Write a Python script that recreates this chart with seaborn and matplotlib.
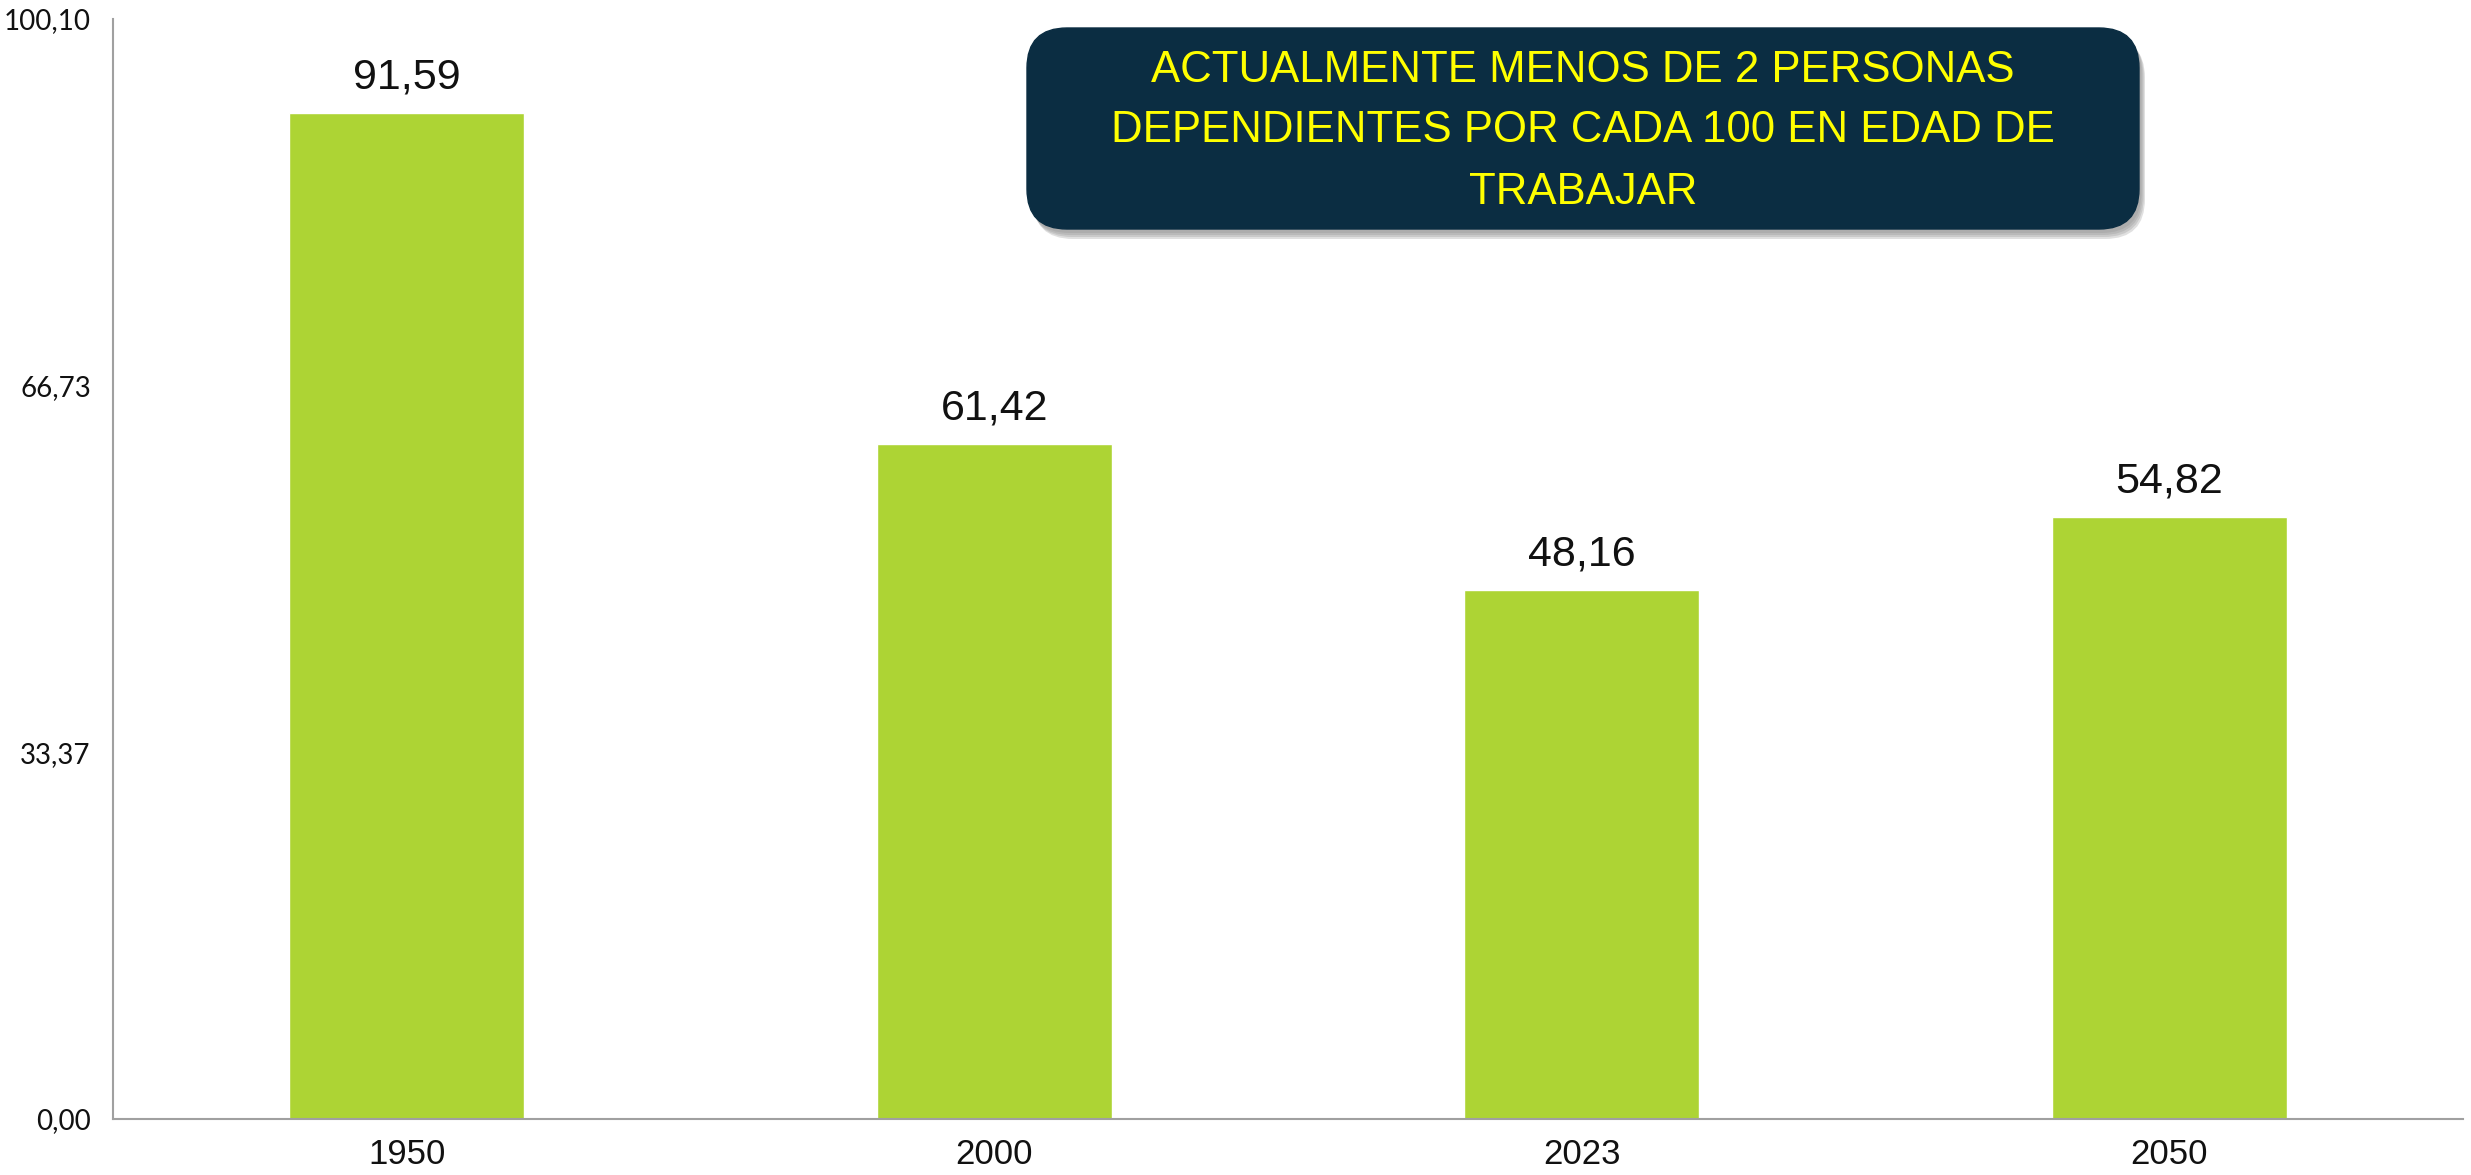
import matplotlib
matplotlib.use('Agg')
import matplotlib.pyplot as plt
from matplotlib.patches import FancyBboxPatch
import seaborn as sns
import pandas as pd

years = ['1950', '2000', '2023', '2050']
values = [91.59, 61.42, 48.16, 54.82]
value_labels = ['91,59', '61,42', '48,16', '54,82']
y_ticks = [0.0, 33.37, 66.73, 100.10]
y_tick_labels = ['0,00', '33,37', '66,73', '100,10']
note_lines = ['ACTUALMENTE MENOS DE 2 PERSONAS',
              'DEPENDIENTES POR CADA 100 EN EDAD DE',
              'TRABAJAR']

narrow = ['Liberation Sans Narrow', 'Liberation Sans', 'DejaVu Sans']
gothic = ['Lato', 'DejaVu Sans']

sns.set_style('white')
df = pd.DataFrame({'year': years, 'value': values})

W, H = 2471, 1175
fig = plt.figure(figsize=(W / 100, H / 100), dpi=100)
ax = fig.add_axes([113 / W, 1 - 1119 / H, (2463 - 113) / W, (1119 - 19) / H])

sns.barplot(data=df, x='year', y='value', color='#ADD434', saturation=1,
            width=0.4, ax=ax)

ax.set_xlim(-0.5, 3.5)
ax.set_ylim(0, 100.10)
ax.set_yticks(y_ticks)
ax.set_yticklabels(y_tick_labels, family=gothic, fontsize=20, color='#111111')
ax.set_xticks(range(len(years)))
ax.set_xticklabels(years, family=narrow, fontsize=25, color='#111111')
ax.set_xticks([-0.5, 0.5, 1.5, 2.5, 3.5], minor=True)
ax.tick_params(axis='x', which='major', length=0, pad=14)
ax.tick_params(axis='x', which='minor', length=8, width=1.5, color='#A0A0A0', direction='out')
ax.tick_params(axis='y', length=8, width=1.5, color='#A0A0A0', direction='out', pad=8)
ax.set_xlabel('')
ax.set_ylabel('')

ax.spines['top'].set_visible(False)
ax.spines['right'].set_visible(False)
for s in ['left', 'bottom']:
    ax.spines[s].set_color('#A0A0A0')
    ax.spines[s].set_linewidth(1.5)

for i, (v, lab) in enumerate(zip(values, value_labels)):
    ax.annotate(lab, (i, v), xytext=(0, 11), textcoords='offset points',
                ha='center', va='bottom', fontsize=31, family=narrow, color='#111111')

# overlay in pixel coordinates for the note box
ov = fig.add_axes([0, 0, 1, 1], zorder=5)
ov.set_xlim(0, W)
ov.set_ylim(H, 0)
ov.axis('off')
ov.patch.set_alpha(0)

bx, by, bw, bh = 1027, 28, 1112, 201
for k, a in enumerate([0.06, 0.08, 0.10, 0.12]):
    off = 4 + k * 2
    ov.add_patch(FancyBboxPatch((bx + off * 0.6, by + off), bw, bh,
                                boxstyle='round,pad=0,rounding_size=40',
                                fc='#000000', ec='none', alpha=a))
ov.add_patch(FancyBboxPatch((bx, by), bw, bh,
                            boxstyle='round,pad=0,rounding_size=40',
                            fc='#0B2D42', ec='#0B2D42', lw=1))
for line, yc in zip(note_lines, [71, 130, 193]):
    ov.text(bx + bw / 2, yc, line, ha='center', va='center',
            fontsize=31.5, family=narrow, color='#FFFF00')

fig.savefig('out.png', dpi=100)
